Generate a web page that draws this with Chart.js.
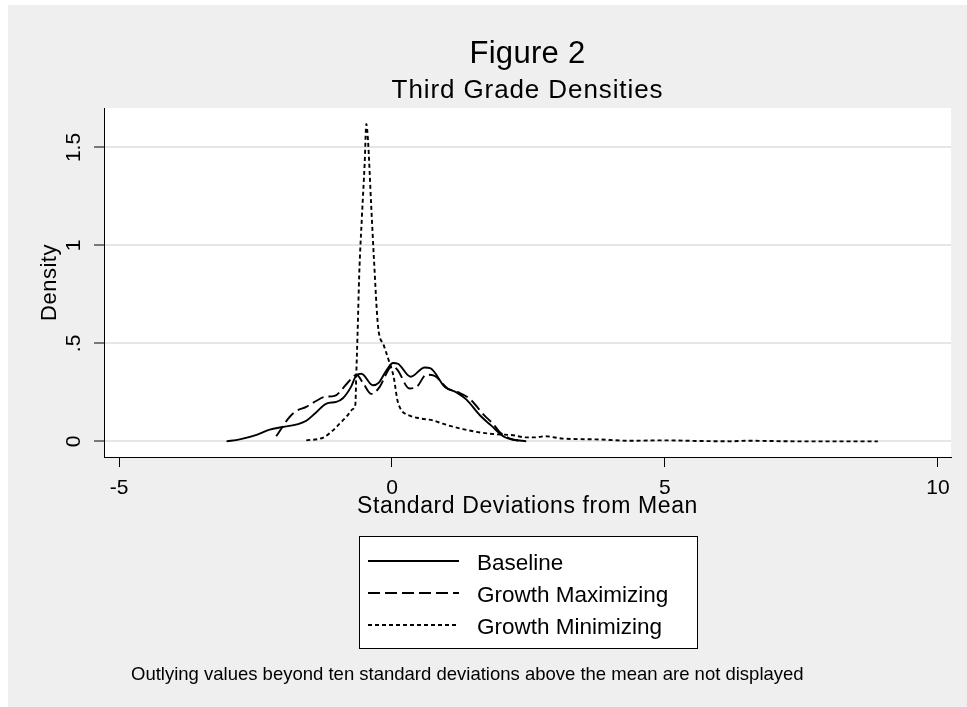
<!DOCTYPE html>
<html>
<head>
<meta charset="utf-8">
<script src="https://cdn.jsdelivr.net/npm/chart.js@4.4.1/dist/chart.umd.min.js"></script>
<style>
html,body{margin:0;padding:0;background:#ffffff;}
#c{position:absolute;left:0;top:0;}
</style>
</head>
<body>
<canvas id="c" width="967" height="707"></canvas>
<script>
// ---- data ----
const titleText = "Figure 2";
const subtitleText = "Third Grade Densities";
const xAxisTitle = "Standard Deviations from Mean";
const yAxisTitle = "Density";
const noteText = "Outlying values beyond ten standard deviations above the mean are not displayed";

const seriesNames = ["Baseline", "Growth Maximizing", "Growth Minimizing"];

const xTickValues = [-5, 0, 5, 10];
const xTickLabels = ["-5", "0", "5", "10"];
const yTickValues = [0, 0.5, 1, 1.5];
const yTickLabels = ["0", ".5", "1", "1.5"];

const baselineX = [-3.03,-2.79,-2.48,-2.24,-2.00,-1.72,-1.57,-1.40,-1.20,-1.02,-0.90,-0.75,-0.65,-0.56,-0.35,-0.24,-0.10,0.02,0.11,0.34,0.60,0.70,0.97,1.18,1.36,1.61,1.82,2.06,2.22,2.46];
const baselineY = [0.0,0.01,0.033,0.06,0.073,0.088,0.105,0.145,0.193,0.201,0.22,0.278,0.338,0.345,0.286,0.30,0.363,0.40,0.396,0.33,0.377,0.374,0.277,0.25,0.214,0.133,0.08,0.022,0.009,0.0];

const growthMaxX = [-2.12,-1.90,-1.78,-1.57,-1.39,-1.23,-1.05,-0.84,-0.715,-0.65,-0.53,-0.38,-0.225,-0.07,0.0,0.10,0.32,0.46,0.63,0.77,1.02,1.20,1.42,1.70,1.85,1.97,2.16,2.40];
const growthMaxY = [0.026,0.116,0.15,0.176,0.206,0.227,0.232,0.29,0.329,0.34,0.298,0.242,0.278,0.363,0.386,0.365,0.27,0.28,0.34,0.335,0.27,0.252,0.218,0.13,0.09,0.048,0.014,0.0];

const growthMinX = [-1.57,-1.26,-1.08,-0.96,-0.835,-0.715,-0.67,-0.655,-0.63,-0.60,-0.55,-0.50,-0.47,-0.44,-0.38,-0.33,-0.256,-0.15,-0.06,0.03,0.10,0.17,0.29,0.50,0.75,0.93,1.30,1.67,1.91,2.22,2.45,2.62,2.80,3.13,3.74,4.35,4.96,5.58,6.19,6.49,7.41,8.90];
const growthMinY = [0.005,0.019,0.056,0.09,0.125,0.165,0.19,0.33,0.55,0.85,1.15,1.42,1.62,1.54,1.2,0.93,0.59,0.49,0.414,0.33,0.21,0.16,0.135,0.118,0.107,0.09,0.062,0.043,0.036,0.031,0.02,0.02,0.026,0.014,0.010,0.003,0.005,0.002,0.0,0.003,0.0,0.0];

// ---- styling ----
const FONT = '"Liberation Sans", Arial, Helvetica, sans-serif';
const dashes = [[], [12, 5], [4, 3]];

function pts(xs, ys) { return xs.map((x, i) => ({x: x, y: ys[i]})); }

const datasets = [
  {label: seriesNames[0], data: pts(baselineX, baselineY), borderDash: dashes[0]},
  {label: seriesNames[1], data: pts(growthMaxX, growthMaxY), borderDash: dashes[1]},
  {label: seriesNames[2], data: pts(growthMinX, growthMinY), borderDash: dashes[2]}
].map(d => Object.assign(d, {
  borderColor: '#000', borderWidth: 1.9, pointRadius: 0, fill: false,
  cubicInterpolationMode: 'monotone'
}));

const decor = {
  id: 'decor',
  beforeDraw(chart) {
    const ctx = chart.ctx, a = chart.chartArea;
    ctx.save();
    ctx.fillStyle = '#ffffff';
    ctx.fillRect(0, 0, chart.width, chart.height);
    ctx.fillStyle = '#efefef';
    ctx.fillRect(8, 5, chart.width - 8, chart.height - 5);
    ctx.fillStyle = '#ffffff';
    ctx.fillRect(a.left, a.top, a.right - a.left, a.bottom - a.top);
    ctx.restore();
  },
  afterDraw(chart) {
    const ctx = chart.ctx, a = chart.chartArea;
    const cx = (a.left + a.right) / 2;
    ctx.save();
    ctx.fillStyle = '#000';
    ctx.textAlign = 'center';
    ctx.textBaseline = 'alphabetic';
    ctx.font = '31px ' + FONT;
    ctx.letterSpacing = '0.3px';
    ctx.fillText(titleText, cx, 63);
    ctx.font = '26px ' + FONT;
    ctx.letterSpacing = '0.9px';
    ctx.fillText(subtitleText, cx, 98);
    ctx.font = '23px ' + FONT;
    ctx.letterSpacing = '0.6px';
    ctx.fillText(xAxisTitle, cx, 513);
    ctx.save();
    ctx.translate(56, (a.top + a.bottom) / 2);
    ctx.rotate(-Math.PI / 2);
    ctx.font = '22px ' + FONT;
    ctx.letterSpacing = '0.5px';
    ctx.fillText(yAxisTitle, 0, 0);
    ctx.restore();
    ctx.letterSpacing = '0px';

    // legend
    const lx = 359.5, ly = 536.5, lw = 338, lh = 112;
    ctx.fillStyle = '#fff';
    ctx.fillRect(lx, ly, lw, lh);
    ctx.strokeStyle = '#000';
    ctx.lineWidth = 1;
    ctx.strokeRect(lx, ly, lw, lh);
    const rows = [561, 593, 625];
    ctx.font = '22.5px ' + FONT;
    ctx.textAlign = 'left';
    ctx.fillStyle = '#000';
    for (let i = 0; i < 3; i++) {
      ctx.beginPath();
      ctx.setLineDash(dashes[i]);
      ctx.lineWidth = 1.9;
      ctx.moveTo(368, rows[i]);
      ctx.lineTo(459, rows[i]);
      ctx.stroke();
      ctx.setLineDash([]);
      ctx.fillText(seriesNames[i], 477, rows[i] + 9);
    }

    // note
    ctx.font = '18.5px ' + FONT;
    ctx.textAlign = 'left';
    ctx.fillText(noteText, 131, 680);
    ctx.restore();
  }
};

new Chart(document.getElementById('c'), {
  type: 'line',
  data: {datasets: datasets},
  plugins: [decor],
  options: {
    responsive: false,
    animation: false,
    devicePixelRatio: 1,
    layout: {padding: {left: 0, top: 108, right: 16, bottom: 0}},
    plugins: {legend: {display: false}, title: {display: false}, tooltip: {enabled: false}},
    scales: {
      x: {
        type: 'linear', min: -5.275, max: 10.24,
        afterBuildTicks: s => { s.ticks = xTickValues.map(v => ({value: v})); },
        afterFit: s => { s.height = 250; },
        ticks: {
          callback: (v) => xTickLabels[xTickValues.indexOf(v)],
          font: {family: FONT, size: 21}, color: '#000', padding: 9,
          maxRotation: 0, minRotation: 0, autoSkip: false
        },
        grid: {drawOnChartArea: false, drawTicks: true, tickLength: 10, tickColor: '#000', tickWidth: 1},
        border: {display: true, color: '#000', width: 1}
      },
      y: {
        type: 'linear', min: -0.080, max: 1.7015,
        afterBuildTicks: s => { s.ticks = yTickValues.map(v => ({value: v})); },
        afterFit: s => { s.width = 104; },
        ticks: {
          callback: (v) => yTickLabels[yTickValues.indexOf(v)],
          font: {family: FONT, size: 21}, color: '#000', padding: 5,
          minRotation: 90, maxRotation: 90, crossAlign: 'center', autoSkip: false
        },
        grid: {drawOnChartArea: true, color: '#e6e6e6', lineWidth: 2, drawTicks: true, tickLength: 10, tickColor: '#000', tickWidth: 1},
        border: {display: true, color: '#000', width: 1}
      }
    }
  }
});
</script>
</body>
</html>
